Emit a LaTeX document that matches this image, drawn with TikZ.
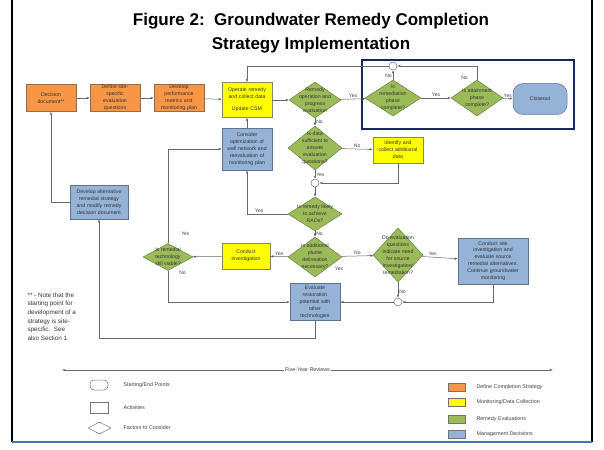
\documentclass[tikz,border=0pt]{standalone}
\usepackage{fontspec}
\setmainfont{Liberation Sans}
\usetikzlibrary{shapes.geometric,positioning,arrows.meta}

\definecolor{planfill}{RGB}{247,150,70}
\definecolor{planline}{RGB}{150,105,75}
\definecolor{monfill}{RGB}{255,255,0}
\definecolor{monline}{RGB}{135,135,100}
\definecolor{evalfill}{RGB}{155,187,89}
\definecolor{evalline}{RGB}{105,130,65}
\definecolor{mgmtfill}{RGB}{149,179,215}
\definecolor{mgmtline}{RGB}{95,115,145}
\definecolor{wire}{RGB}{105,105,105}
\definecolor{framenavy}{RGB}{22,42,92}
\definecolor{edgeblue}{RGB}{60,120,180}

\tikzset{
  txt/.style={font=\fontsize{5.2}{6.9}\selectfont, text=black!80, align=center},
  box/.style={draw, txt, inner sep=0pt, minimum width=50, minimum height=27, text width=48},
  plan/.style={box, fill=planfill, draw=planline},
  monitor/.style={box, fill=monfill, draw=monline},
  manage/.style={box, fill=mgmtfill, draw=mgmtline},
  query/.style={diamond, draw=evalline, fill=evalfill, inner sep=0pt, minimum width=52, minimum height=36},
  junction/.style={circle, draw=wire, fill=white, minimum size=8, inner sep=0pt},
  lbl/.style={font=\fontsize{5}{6}\selectfont, text=black!75, inner sep=1pt},
  keytext/.style={font=\fontsize{5.4}{6.5}\selectfont, text=black!75, anchor=west, inner sep=0pt},
  keyshape/.style={draw=black!55, minimum width=18, minimum height=10, inner sep=0pt},
}

\begin{document}
\begin{tikzpicture}[x=1pt,y=-1pt,>={Latex[length=3pt,width=2.4pt]},line width=0.5pt]
  \useasboundingbox (0,0) rectangle (604,449);
  % slide frame
  \draw[line width=1.5pt] (12,0) -- (12,442);
  \draw[line width=1.5pt] (592,0) -- (592,442);
  \draw[line width=1.5pt, edgeblue] (12,442) -- (592,442);

  \node[font=\bfseries\fontsize{17}{24}\selectfont, align=center] (title) at (311,33)
    {Figure 2:\ \ Groundwater Remedy Completion\\Strategy Implementation};

  % top row
  \node[plan] (decision) at (51,98) {Decision\\document**};
  \node[plan] (sitequestions) at (115,98) {Define site-\\specific\\evaluation\\questions};
  \node[plan] (metrics) at (179,98) {Develop\\performance\\metrics and\\monitoring plan};
  \node[monitor, minimum height=35] (operate) at (247,100) {Operate remedy\\and collect data\\[5pt]Update CSM};
  \node[query, label={[txt]center:{Remedy\\operation and\\progress\\evaluation}}] (progress) at (315,100) {};

  % closeout checks
  \draw[line width=1.6pt, framenavy] (362,60) rectangle (574,129);
  \node[query, minimum width=56] (remediation) at (393,98) {};
  \node[txt] at (remediation) {Is\\remediation\\phase\\complete?};
  \node[query] (attainment) at (477,98) {};
  \node[txt] at (attainment) {Is attainment\\phase\\complete?};
  \node[manage, rounded corners=10, minimum width=54, minimum height=31] (closeout) at (540,99) {Closeout};
  \node[junction] (loopA) at (393,66) {};

  % evaluation column
  \node[manage, minimum height=42] (optimize) at (247,149) {Consider\\optimization of\\well network and\\reevaluation of\\monitoring plan};
  \node[query, minimum width=54, minimum height=44, label={[txt]center:{Is data\\sufficient to\\answer\\evaluation\\questions?}}] (sufficient) at (315,148) {};
  \node[monitor, minimum height=26] (collect) at (398,150) {Identify and\\collect additional\\data};
  \node[junction] (loopB) at (315,183) {};
  \node[query, minimum width=54, minimum height=34, label={[txt]center:{Is remedy likely\\to achieve\\RAOs?}}] (raos) at (315,214) {};
  \node[manage, minimum width=58, minimum height=34, text width=58] (alternative) at (99,202) {Develop alternative\\remedial strategy\\and modify remedy\\decision document};
  \node[query, minimum width=50, minimum height=27, label={[txt]center:{Is remedial\\technology\\still viable?}}] (viable) at (168,257) {};
  \node[monitor, minimum width=48, minimum height=26] (investigate) at (246,256) {Conduct\\investigation};
  \node[query, minimum width=54, minimum height=40, label={[txt]center:{Is additional\\plume\\delineation\\necessary?}}] (plume) at (315,257) {};
  \node[query, minimum width=50, minimum height=54, label={[txt]center:{Do evaluation\\questions\\indicate need\\for source\\investigation/\\remediation?}}] (source) at (398,255) {};
  \node[manage, minimum width=70, minimum height=46, text width=70] (siteinv) at (493,261) {Conduct site\\investigation and\\evaluate source\\remedial alternatives.\\Continue groundwater\\monitoring};
  \node[junction] (loopC) at (398,302) {};
  \node[manage, minimum height=37] (restoration) at (315,302) {Evaluate\\restoration\\potential with\\other\\technologies};

  % connectors
  \path[->, draw=wire]
    (decision) edge (sitequestions)
    (sitequestions) edge (metrics)
    (metrics) edge (operate)
    (operate) edge (progress)
    (optimize) edge (operate)
    (progress) edge node[lbl, above] {Yes} (remediation)
    (remediation) edge node[lbl, above] {Yes} (attainment)
    (attainment) edge node[lbl, above] {Yes} (closeout)
    (remediation) edge node[lbl, left, pos=0.4] {No} (loopA)
    (progress) edge node[lbl, right] {No} (sufficient)
    (sufficient) edge node[lbl, above] {No} (collect)
    (sufficient) edge node[lbl, right] {Yes} (loopB)
    (loopB) edge (raos)
    (raos) edge node[lbl, right] {No} (plume)
    (plume) edge node[lbl, above] {Yes} (investigate)
    (investigate) edge (viable)
    (plume) edge node[lbl, above] {No} (source)
    (source) edge node[lbl, above, pos=0.3] {Yes} (siteinv)
    (source) edge node[lbl, right, pos=0.6] {No} (loopC)
    (loopC) edge (restoration);
  \draw[->, wire] (attainment.north) |- node[lbl, left=8pt, pos=0.08] {No} (loopA.east);
  \draw[->, wire] (loopA.west) -| (operate.north);
  \draw[->, wire] (collect.south) |- (loopB.east);
  \draw[->, wire] (raos.west) -| node[lbl, above, pos=0.35] {Yes} (optimize.south);
  \draw[->, wire] (viable.north) |- node[lbl, right=12pt, pos=0.05] {Yes} (optimize.west);
  \draw[->, wire] (viable.south) |- node[lbl, right=10pt, pos=0.03] {No} (restoration.west);
  \draw[->, wire] (siteinv.south) |- (loopC.east);
  \draw[->, wire] (restoration.south) -- ++(0,17) -| (alternative.south);
  \draw[->, wire] (alternative.west) -| (decision.south);
  \node[lbl] (plumeyes) at (339,269) {Yes};

  \node[font=\fontsize{6.3}{8.7}\selectfont, text=black!80, align=left, anchor=north west] (footnote) at (24,289)
    {** - Note that the\\starting point for\\development of a\\strategy is site-\\specific.\ \ See\\also Section 1.};

  % five-year reviews
  \coordinate (reviewstart) at (62,370);
  \coordinate (reviewend) at (553,370);
  \draw[<->, wire] (reviewstart) -- node[keytext, anchor=center, fill=white, inner sep=1.5pt] {Five-Year Reviews} (reviewend);

  % key
  \node[keyshape, rounded corners=4] (keystart) at (99,385) {};
  \node[keytext, right=15pt of keystart] {Starting/End Points};
  \node[keyshape, minimum height=11] (keyactivity) at (99,407.5) {};
  \node[keytext, right=15pt of keyactivity] {Activities};
  \node[keyshape, diamond, minimum width=23, minimum height=12] (keyfactor) at (99.5,428) {};
  \node[keytext, right=12pt of keyfactor] {Factors to Consider};

  \node[keyshape, fill=planfill, minimum width=17, minimum height=8] (keyplan) at (456.5,387) {};
  \node[keytext, right=11pt of keyplan] {Define Completion Strategy};
  \node[keyshape, fill=monfill, minimum width=17, minimum height=8] (keymonitor) at (456.5,402) {};
  \node[keytext, right=11pt of keymonitor] {Monitoring/Data Collection};
  \node[keyshape, fill=evalfill, minimum width=17, minimum height=8] (keyeval) at (456.5,419) {};
  \node[keytext, right=11pt of keyeval] {Remedy Evaluations};
  \node[keyshape, fill=mgmtfill, minimum width=17, minimum height=8] (keymanage) at (456.5,434) {};
  \node[keytext, right=11pt of keymanage] {Management Decisions};
\end{tikzpicture}
\end{document}
